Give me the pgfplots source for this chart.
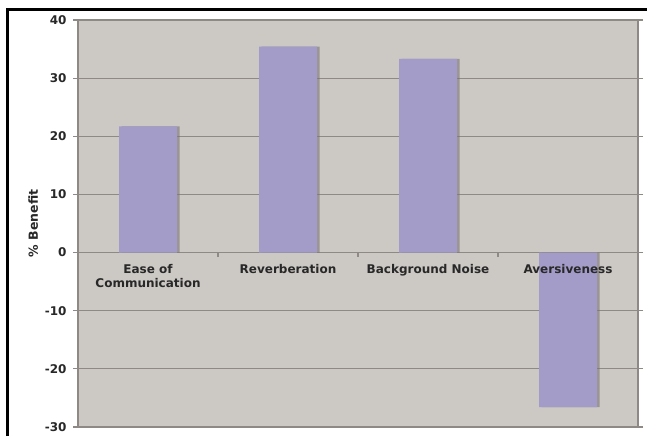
\documentclass[border=0pt]{standalone}
\usepackage{pgfplots}
\pgfplotsset{compat=1.18}
\usepackage{fontspec}
\setmainfont{DejaVu Sans}

\definecolor{plotbg}{RGB}{204,200,196}
\definecolor{gridc}{RGB}{142,137,132}
\definecolor{barc}{RGB}{163,156,201}
\definecolor{shadowc}{RGB}{120,115,112}
\definecolor{labc}{RGB}{40,40,40}

\pgfplotstableread{
x  y
0  21.7
1  35.4
2  33.3
3  -26.6
}\benefit

\begin{document}
\begin{tikzpicture}
\useasboundingbox (0pt,0pt) rectangle (647pt,436pt);
\fill[white] (0pt,0pt) rectangle (647pt,436pt);
\begin{axis}[
  at={(78pt,9pt)}, anchor=south west,
  scale only axis, width=560pt, height=407pt,
  xmin=-0.5, xmax=3.5, ymin=-30, ymax=40,
  axis background/.style={fill=plotbg},
  axis line style={gridc, line width=1.2pt},
  ytick={-30,-20,...,40},
  ymajorgrids, grid style={gridc, line width=1.2pt},
  tick align=outside, major tick length=5pt,
  ytick style={gridc, line width=1.2pt},
  xtick={0,1,2,3}, xtick style={draw=none},
  xticklabels={},
  /pgf/number format/assume math mode=true,
  yticklabel style={font=\bfseries\fontsize{12}{14}\selectfont, text=labc, xshift=-3pt},
  ylabel={\% Benefit},
  ylabel style={font=\bfseries\fontsize{12.5}{14}\selectfont, text=labc,
    at={(axis description cs:-0.08,0.5)}, anchor=center},
  ybar, bar width=58pt,
  clip=false,
]
% soft shadow to the right of each bar
\addplot[draw=none, fill=shadowc, fill opacity=0.6, bar shift=2.5pt] table[x=x,y=y] {\benefit};
\addplot[draw=none, fill=barc, bar shift=0pt] table[x=x,y=y] {\benefit};
% small category separators on the zero line
\draw[gridc, line width=1.2pt] (axis cs:0.5,0) -- (axis cs:0.5,-0.7);
\draw[gridc, line width=1.2pt] (axis cs:1.5,0) -- (axis cs:1.5,-0.7);
\draw[gridc, line width=1.2pt] (axis cs:2.5,0) -- (axis cs:2.5,-0.7);
% category names just below the zero line, set over the bars
\begin{scope}[every node/.style={anchor=north, align=center, text=labc,
    font=\bfseries\fontsize{12}{14}\selectfont, inner sep=0pt, yshift=-12pt}]
\node at (axis cs:0,0) {Ease of\\Communication};
\node at (axis cs:1,0) {Reverberation};
\node at (axis cs:2,0) {Background Noise};
\node at (axis cs:3,0) {Aversiveness};
\end{scope}
\end{axis}
% outer frame
\draw[black, line width=3pt] (7pt,0pt) -- (7pt,426pt) -- (648pt,426pt);
\end{tikzpicture}
\end{document}
